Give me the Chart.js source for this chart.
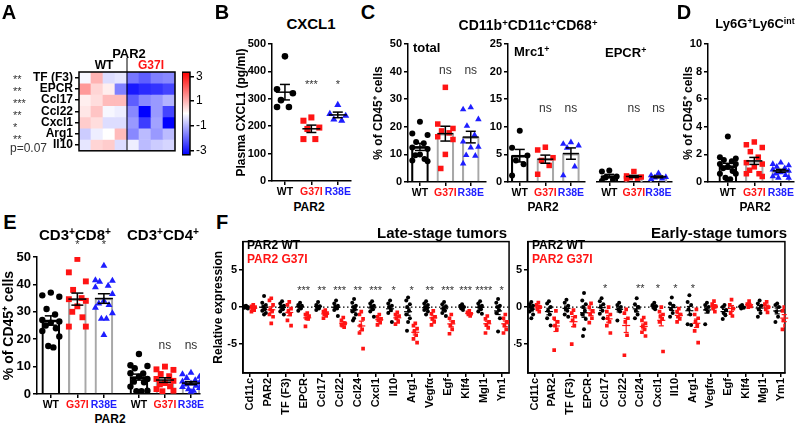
<!DOCTYPE html>
<html>
<head>
<meta charset="utf-8">
<script src="https://cdn.jsdelivr.net/npm/chart.js@4.4.0/dist/chart.umd.min.js"></script>
<style>
  body { margin: 0; width: 800px; height: 429px; position: relative; overflow: hidden; background: #fff;
         font-family: "Liberation Sans", Arial, sans-serif; }
  canvas { position: absolute; }
  .t { position: absolute; font-weight: bold; white-space: nowrap; line-height: 1; color: #000; }
  .t sup { font-size: 0.68em; position: relative; top: -0.45em; vertical-align: baseline; }
</style>
</head>
<body>
<script>
// ---------- data ----------
// A: heatmap (z-scores), rows = genes, 4 WT + 4 G37I mice
const heatGenes = ['TF (F3)', 'EPCR', 'Ccl17', 'Ccl22', 'Cxcl1', 'Arg1', 'Il10'];
const heatSig = ['**', '**', '***', '**', '*', '**', 'p=0.07'];
const heatWT = [
  [-0.1, 0.9, -0.4, -0.3],
  [1.2, 0.5, 0.2, -1.5],
  [0.2, 0.4, 0.8, 0.8],
  [0.3, 0.7, -0.1, -0.2],
  [0.6, 0.4, -0.4, -0.4],
  [-0.6, -0.2, 0.0, 0.8],
  [-0.3, 0.5, 0.6, -0.4]
];
const heatG37I = [
  [-1.6, -1.9, -1.5, -1.4],
  [-2.7, -2.5, -2.4, -2.2],
  [-1.9, -1.4, -1.2, -0.9],
  [-1.4, -3.0, -1.2, -2.2],
  [-1.2, -2.3, -1.1, -3.0],
  [-1.4, -0.8, -1.2, -0.8],
  [-0.2, -0.8, -0.6, -0.5]
];
const heatTicks = [3, 1, -1, -3];

const groupNames = ['WT', 'G37I', 'R38E'];

// B: plasma CXCL1 (pg/ml)
const cxcl1WT = [455, 335, 320, 295, 270, 270];
const cxcl1G37I = [232, 220, 195, 190, 153, 153];
const cxcl1R38E = [278, 245, 238, 225, 220];
const cxcl1Sig = ['', '***', '*'];

// C: CD11b+CD11c+CD68+ (% of CD45+)
const totalWT = [21.8, 17.6, 17, 14.5, 14, 12.5, 12, 10, 9.7, 8.3, 7.8, 7.5];
const totalG37I = [34.3, 21, 19.4, 18.5, 17.8, 16.4, 15.4, 10, 4.9];
const totalR38E = [27, 26.3, 22.7, 20.3, 17, 14.6, 12.7, 12.5, 9.7, 9.5, 6.7];
const mrc1WT = [9.3, 6.2, 4.8, 3.9, 3.2, 1.2];
const mrc1G37I = [6.3, 5.8, 4.4, 3.9, 3.0, 1.4];
const mrc1R38E = [7.2, 6.9, 6.6, 6.2, 2.8, 1.2];
const epcrWT = [2.1, 1.9, 1.0, 0.8, 0.4, 0.2];
const epcrG37I = [1.9, 1.1, 0.9, 0.8, 0.7, 0.6];
const epcrR38E = [1.6, 1.2, 0.9, 0.8, 0.6, 0.5];

// D: Ly6G+Ly6Cint (% of CD45+)
const ly6WT = [3.3, 1.8, 1.7, 1.6, 1.5, 1.3, 1.3, 1.1, 1.0, 0.8, 0.6, 0.6, 0.3, 0.2, 0.1];
const ly6G37I = [2.9, 2.7, 2.5, 2.2, 1.8, 1.4, 1.3, 1.1, 0.85, 0.6, 0.6, 0.4];
const ly6R38E = [1.4, 1.3, 1.2, 1.1, 1.0, 0.9, 0.8, 0.7, 0.6, 0.5, 0.4, 0.3, 0.3];

// E: T cells (% of CD45+)
const cd8WT = [37, 36, 35.5, 31, 29, 27, 26.5, 26, 25, 24, 23, 21, 17.5, 17];
const cd8G37I = [49.3, 44.4, 41.1, 38, 35, 34.6, 34, 32, 30, 28, 24.6, 24.6];
const cd8R38E = [46.8, 41.5, 41.3, 41, 39.5, 39, 36.5, 34, 33, 32.5, 31.5, 29.5, 27.5, 27.5, 21.5];
const cd4WT = [14.6, 10.5, 10.2, 9.4, 7.5, 7.6, 5.5, 6.3, 4.5, 4.3, 2.7, 1.2, 1.0, 1.0];
const cd4G37I = [10, 9, 8.8, 7.3, 6.5, 5.5, 4.8, 4, 3.5, 2.8, 1.8, 1.2, 1.0];
const cd4R38E = [7.8, 7.2, 6.3, 5.8, 5.0, 4.6, 4.2, 3.8, 3.5, 3.0, 2.6, 2.2, 1.7, 1.2, 0.8];

// F: relative expression in tumor macrophages
const fGenes = ['Cd11c', 'PAR2', 'TF (F3)', 'EPCR', 'Ccl17', 'Ccl22', 'Ccl24', 'Cxcl1', 'Il10', 'Arg1', 'Vegfα', 'Egf', 'Klf4', 'Mgl1', 'Ym1'];
const fLateSig = ['', '', '', '***', '**', '***', '**', '***', '*', '*', '**', '***', '***', '****', '*'];
const fEarlySig = ['', '', '', '', '*', '', '**', '*', '*', '*', '', '', '', '', ''];
const fLateWT = [
  [0.2, 0.1, 0, 0, -0.1, -0.1, -0.2],
  [1.5, 0.6, 0.3, 0, -0.3, -0.5, -0.8, -1.0],
  [0.8, 0.5, 0.2, 0, -0.3, -0.6, -1.0],
  [0.6, 0.3, 0.2, 0, -0.2, -0.5],
  [0.7, 0.3, 0.1, 0, -0.2, -0.4],
  [0.9, 0.5, 0.2, 0, -0.2, -0.4, -1.2],
  [1.1, 0.6, 0.2, 0, -0.3, -0.6, -1.0, -1.5, -1.8],
  [0.8, 0.5, 0.2, 0, -0.3, -0.6, -1.3],
  [0.9, 0.5, 0.2, 0, -0.4, -0.8, -2.0],
  [1.3, 0.9, 0.4, 0, -0.5, -1.0, -1.5, -2.0, -3.2],
  [0.8, 0.5, 0.3, 0, -0.2, -0.4, -0.6, -1.0],
  [0.7, 0.4, 0.1, -0.2, -0.5, -0.8, -1.2],
  [0.4, 0.2, 0, -0.2, -0.4],
  [0.8, 0.5, 0.2, 0, -0.3, -0.6, -0.9],
  [1.1, 0.6, 0.2, 0, -0.4, -0.8, -1.5, -3.3]
];
const fLateG37I = [
  [0.3, 0.1, 0, -0.2, -0.4, -0.6],
  [1.2, 0.9, 0.3, -0.3, -0.5, -1.0, -1.3, -2.2],
  [0.7, 0.3, -0.2, -0.6, -1.0, -1.8, -2.5],
  [-0.8, -1.0, -1.2, -1.5, -1.6, -2.6],
  [-0.4, -0.6, -0.8, -1.0, -1.2, -1.5],
  [-1.4, -1.8, -2.2, -2.5, -2.7, -2.4],
  [-0.6, -1.0, -1.6, -2.5, -3.0, -3.5, -5.6],
  [-1.0, -1.3, -1.6, -1.8, -2.1, -2.4],
  [-0.7, -1.0, -1.2, -1.5, -2.0, -2.3],
  [-2.2, -2.5, -2.9, -3.3, -3.8, -4.3, -4.8],
  [-0.5, -0.9, -1.3, -1.6, -2.0, -2.4],
  [-1.0, -1.5, -2.0, -2.5, -3.0, -3.6],
  [-0.5, -0.7, -0.9, -1.0, -1.2],
  [-1.2, -1.6, -2.0, -2.4, -2.8, -3.5],
  [-1.0, -1.5, -2.0, -2.5, -3.0, -3.5]
];
const fEarlyWT = [
  [0.7, 0.4, 0.2, 0, -0.3, -0.6, -1.0, -1.5],
  [0.8, 0.5, 0, -0.5, -1.0, -1.5, -2.5],
  [1.0, 0.6, 0.2, -0.2, -0.5, -1.0, -1.3],
  [1.9, 0.9, 0.4, 0, -0.5, -1.0, -1.6, -3.0, -3.9],
  [1.2, 0.8, 0.4, 0, -0.5, -0.9, -1.5],
  [0.6, 0.3, 0, -0.3, -0.6, -1.8],
  [1.2, 0.4, 0, -0.5, -1.0, -1.5],
  [0.6, 0.3, 0.1, -0.1, -0.3],
  [1.3, 0.5, 0.2, -0.3, -0.8, -1.3],
  [1.6, 0.7, 0.3, -0.3, -1.0, -2.3, -2.4],
  [0.6, 0.3, 0, -0.3, -0.6, -2.3],
  [0.3, 0, -0.4, -0.8, -1.1, -1.6],
  [0.3, 0.1, -0.1, -0.2],
  [0.9, 0.5, 0.2, -0.3, -0.8, -1.3],
  [0.5, 0.3, 0, -0.6, -1.3, -2.0]
];
const fEarlyG37I = [
  [0.6, 0.3, 0, -0.3, -0.6],
  [-0.5, -1.5, -2.0, -2.5, -3.0, -5.8],
  [-0.4, -0.8, -1.3, -1.8, -2.5, -5.0],
  [0.5, 0, -0.5, -1.0, -1.5, -2.1],
  [0, -0.6, -1.0, -1.5, -2.0, -2.5, -3.5],
  [-0.3, -0.8, -1.5, -2.0, -3.8, -6.5],
  [-1.4, -1.8, -2.2, -2.6, -3.0, -3.4, -3.9],
  [0, -0.6, -1.0, -1.3, -1.6, -2.0, -6.0],
  [-0.2, -0.6, -1.0, -1.3, -1.6, -2.0],
  [-0.3, -1.0, -1.5, -2.0, -2.5, -3.2, -4.8],
  [0.8, 0.4, 0.1, -0.2, -0.6],
  [1.0, 0.3, -0.2, -0.8, -1.2],
  [0.8, 0.4, 0.1, 0],
  [0.7, 0.4, 0, -0.3, -0.7],
  [0, -0.5, -1.1, -1.8, -2.5, -3.0]
];

// ---------- styling ----------
const RED = '#ff1414', BLUE = '#1e1eff', GRAY = '#a8a8a8';
const COLOR = { WT: '#000', G37I: RED, R38E: BLUE };
const SHAPE = { WT: 'circle', G37I: 'rect', R38E: 'triangle' };
const SIZE = { WT: 1, G37I: 1.3, R38E: 1.25 };
const JIT = [0, -1, 1, -0.5, 0.5, -1, 1, 0, -0.6, 0.6, -1, 1, -0.3, 0.3, 0];

Chart.defaults.font.family = '"Liberation Sans", Arial, sans-serif';
Chart.defaults.font.size = 11;
Chart.defaults.font.weight = 'bold';
Chart.defaults.color = '#000';

const mean = a => a.reduce((s, v) => s + v, 0) / a.length;
const sem = a => {
  const m = mean(a);
  return Math.sqrt(a.reduce((s, v) => s + (v - m) * (v - m), 0) / (a.length - 1) / a.length);
};

function heatColor(v) {
  const t = Math.max(-1, Math.min(1, v / 3));
  if (t >= 0) { const k = Math.round(255 * (1 - t)); return `rgb(255,${k},${k})`; }
  const k = Math.round(255 * (1 + t));
  return `rgb(${k},${k},255)`;
}

function mkCanvas(left, top, w, h) {
  const c = document.createElement('canvas');
  c.width = w; c.height = h;
  c.style.left = left + 'px'; c.style.top = top + 'px';
  document.body.appendChild(c);
  return c;
}

function txt(html, x, y, size, opts = {}) {
  const d = document.createElement('div');
  d.className = 't';
  d.innerHTML = html;
  d.style.fontSize = size + 'px';
  if (opts.color) d.style.color = opts.color;
  if (opts.normal) d.style.fontWeight = 'normal';
  const ax = opts.align === 'left' ? '0' : (opts.align === 'right' ? '-100%' : '-50%');
  d.style.left = x + 'px'; d.style.top = y + 'px';
  d.style.transform = `translate(${ax},-50%)`;
  document.body.appendChild(d);
}

function seg(ctx, x1, y1, x2, y2) {
  ctx.beginPath(); ctx.moveTo(x1, y1); ctx.lineTo(x2, y2); ctx.stroke();
}

const axisGrid = { display: true, offset: false, drawOnChartArea: false, drawTicks: true, tickLength: 4, color: '#000', lineWidth: 1.5 };

// overlay: mean +/- SEM, significance notes, optional frame and zero line
function overlay(p) {
  return {
    id: 'overlay',
    beforeDatasetsDraw(chart) {
      if (!p.box) return;
      const { ctx, chartArea: a, scales: { y } } = chart;
      ctx.save();
      ctx.strokeStyle = '#000'; ctx.lineWidth = 1.5;
      ctx.strokeRect(a.left, a.top, a.right - a.left, a.bottom - a.top);
      ctx.setLineDash([1.5, 2.5]); ctx.lineWidth = 1.2;
      const y0 = y.getPixelForValue(0);
      seg(ctx, a.left, y0, a.right, y0);
      ctx.restore();
    },
    afterDatasetsDraw(chart) {
      const { ctx, scales: { x, y } } = chart;
      ctx.save();
      p.groups.forEach(g => {
        const m = mean(g.vals), s = sem(g.vals), cx = x.getPixelForValue(g.x);
        ctx.strokeStyle = p.statColor ? COLOR[g.kind] : '#000';
        ctx.lineWidth = p.statLW || 1.5;
        const ym = y.getPixelForValue(m), yt = y.getPixelForValue(m + s), yb = y.getPixelForValue(m - s);
        seg(ctx, cx - p.mw, ym, cx + p.mw, ym);
        seg(ctx, cx, yt, cx, yb);
        seg(ctx, cx - p.cw, yt, cx + p.cw, yt);
        seg(ctx, cx - p.cw, yb, cx + p.cw, yb);
      });
      ctx.fillStyle = '#333';
      ctx.textAlign = 'center'; ctx.textBaseline = 'middle';
      (p.notes || []).forEach(n => {
        ctx.font = (n.t === 'ns' ? '12px' : '11px') + ' "Liberation Sans", Arial, sans-serif';
        ctx.fillText(n.t, x.getPixelForValue(n.x), y.getPixelForValue(n.y));
      });
      ctx.restore();
    }
  };
}

function panel(p) {
  const [L, T, R, B] = p.plot;
  const yW = p.yW || 0, padR = p.padR || 0;
  const cv = mkCanvas(L - yW, T - p.padT, R - L + yW + padR, B - T + p.padT + p.xH);
  const ds = [];
  if (p.bars) {
    ds.push({
      type: 'bar', order: 2,
      data: p.groups.map(g => ({ x: g.x, y: mean(g.vals) })),
      backgroundColor: 'rgba(255,255,255,0)',
      borderColor: p.groups.map(g => g.kind === 'WT' ? '#000' : GRAY),
      borderWidth: 1.5, barThickness: p.barW, borderSkipped: 'start'
    });
  }
  p.groups.forEach(g => ds.push({
    type: 'scatter', order: 1,
    data: g.vals.map((v, i) => ({ x: g.x + JIT[i % JIT.length] * p.spread, y: v })),
    pointStyle: SHAPE[g.kind], pointRadius: p.r * SIZE[g.kind], pointBorderWidth: 0,
    backgroundColor: COLOR[g.kind], borderColor: COLOR[g.kind]
  }));
  new Chart(cv, {
    type: 'scatter',
    data: { datasets: ds },
    options: {
      responsive: false, animation: false, devicePixelRatio: 1,
      layout: { padding: { top: p.padT, right: padR, left: 0, bottom: 0 } },
      plugins: { legend: { display: false }, tooltip: { enabled: false } },
      scales: {
        x: {
          type: 'linear', offset: false, min: p.xMin, max: p.xMax,
          afterBuildTicks: s => { s.ticks = p.xTicks.map(v => ({ value: v })); },
          afterFit: s => { s.height = p.xH; },
          ticks: {
            autoSkip: false, maxRotation: p.rot || 0, minRotation: p.rot || 0, padding: 1,
            font: { size: p.xFont || 10.5, weight: 'bold' },
            color: c => p.xColors[c.index] || '#000',
            callback: (v, i) => p.xLabels[i]
          },
          grid: axisGrid, border: { color: '#000', width: 1.5 }
        },
        y: {
          type: 'linear', display: yW > 0, min: p.yMin, max: p.yMax,
          afterBuildTicks: s => { s.ticks = p.yTicks.map(v => ({ value: v })); },
          afterFit: s => { s.width = yW; },
          ticks: { autoSkip: false, padding: 2, font: { size: p.yFont || 11, weight: 'bold' }, callback: v => String(v) },
          grid: axisGrid, border: { color: '#000', width: 1.5 },
          title: p.yTitle ? { display: true, text: p.yTitle, padding: 0, font: { size: p.yTitleSize || 12, weight: 'bold' } } : { display: false }
        }
      }
    },
    plugins: [overlay(p)]
  });
}

const colors3 = groupNames.map(n => COLOR[n]);
function groups3(xs, a, b, c) {
  return [{ kind: 'WT', x: xs[0], vals: a }, { kind: 'G37I', x: xs[1], vals: b }, { kind: 'R38E', x: xs[2], vals: c }];
}

// ---------- A: heatmap ----------
(function () {
  const L = 79, T = 72, R = 175, B = 156, yW = 54, padT = 16, padB = 4;
  const cv = mkCanvas(L - yW, T - padT, R - L + yW + 2, B - T + padT + padB);
  const nW = heatWT[0].length, nCols = nW + heatG37I[0].length;
  new Chart(cv, {
    type: 'bar',
    data: {
      datasets: heatGenes.map((g, r) => {
        const row = heatWT[r].concat(heatG37I[r]);
        return {
          data: row.map((v, c) => ({ x: c + 0.5, y: [r, r + 1] })),
          backgroundColor: row.map(heatColor),
          barPercentage: 1, categoryPercentage: 1, borderWidth: 0
        };
      })
    },
    options: {
      responsive: false, animation: false, devicePixelRatio: 1,
      layout: { padding: { top: padT, right: 2, left: 0, bottom: padB } },
      plugins: { legend: { display: false }, tooltip: { enabled: false } },
      scales: {
        x: { type: 'linear', stacked: true, offset: false, display: false, min: 0, max: nCols,
             afterBuildTicks: s => { s.ticks = Array.from({ length: nCols + 1 }, (_, i) => ({ value: i })); } },
        y: {
          type: 'linear', stacked: false, reverse: true, min: 0, max: heatGenes.length,
          afterBuildTicks: s => { s.ticks = heatGenes.map((g, i) => ({ value: i + 0.5 })); },
          afterFit: s => { s.width = yW; },
          ticks: { autoSkip: false, padding: 2, font: { size: 12, weight: 'bold' }, callback: (v, i) => heatGenes[i] },
          grid: axisGrid, border: { display: false }
        }
      }
    },
    plugins: [{
      id: 'frame',
      afterDatasetsDraw(chart) {
        const { ctx, chartArea: a, scales: { x } } = chart;
        ctx.save();
        ctx.strokeStyle = '#000'; ctx.lineWidth = 1.5;
        ctx.strokeRect(a.left, a.top, a.right - a.left, a.bottom - a.top);
        ctx.lineWidth = 1;
        const xd = x.getPixelForValue(nW);
        seg(ctx, xd, a.top - 14, xd, a.bottom);
        ctx.restore();
      }
    }]
  });

  // colour bar
  const cL = 182, cR = 190, cT = 71, cB = 156, cW = 18;
  const cb = mkCanvas(cL, cT - 8, cR - cL + cW, cB - cT + 16);
  new Chart(cb, {
    type: 'bar',
    data: { datasets: [{
      data: [{ x: 0, y: [-3.35, 3.35] }], barThickness: cR - cL, borderWidth: 0,
      backgroundColor: c => {
        const a = c.chart.chartArea;
        if (!a) return '#fff';
        const gr = c.chart.ctx.createLinearGradient(0, a.top, 0, a.bottom);
        [3.35, 0, -3.35].forEach((v, i) => gr.addColorStop(i / 2, heatColor(v)));
        return gr;
      }
    }] },
    options: {
      responsive: false, animation: false, devicePixelRatio: 1,
      layout: { padding: { top: 8, bottom: 8, left: 0, right: 0 } },
      plugins: { legend: { display: false }, tooltip: { enabled: false } },
      scales: {
        x: { type: 'linear', offset: false, display: false, min: -0.5, max: 0.5 },
        y: {
          type: 'linear', position: 'right', min: -3.35, max: 3.35,
          afterBuildTicks: s => { s.ticks = heatTicks.map(v => ({ value: v })); },
          afterFit: s => { s.width = cW; },
          ticks: { autoSkip: false, padding: 2, font: { size: 12, weight: 'normal' }, callback: v => String(v) },
          grid: axisGrid, border: { display: false }
        }
      }
    },
    plugins: [{
      id: 'cbframe',
      afterDatasetsDraw(chart) {
        const { ctx, chartArea: a } = chart;
        ctx.save(); ctx.strokeStyle = '#000'; ctx.lineWidth = 1.5;
        ctx.strokeRect(a.left, a.top, a.right - a.left, a.bottom - a.top);
        ctx.restore();
      }
    }]
  });

  txt('PAR2', 129, 53, 13);
  txt('WT', 104, 65, 12);
  txt('G37I', 151, 65, 12, { color: RED });
  heatSig.forEach((s, r) => {
    const yc = T + (r + 0.5) * (B - T) / heatGenes.length;
    if (s.startsWith('p')) txt(s, 10, yc - 2, 12, { normal: true, align: 'left', color: '#333' });
    else txt(s, 13, yc + 1, 11, { normal: true, align: 'left', color: '#333' });
  });
})();

// ---------- B ----------
panel({
  plot: [272, 44, 351, 181], yW: 38, padT: 10, padR: 16, xH: 18,
  xMin: -0.49, xMax: 2.5, xTicks: [0, 1, 2], xLabels: groupNames, xColors: colors3,
  yMin: 0, yMax: 500, yTicks: [0, 100, 200, 300, 400, 500], yTitle: 'Plasma CXCL1 (pg/ml)',
  groups: groups3([0, 1, 2], cxcl1WT, cxcl1G37I, cxcl1R38E),
  bars: false, spread: 0.3, r: 3.3, mw: 9, cw: 5,
  notes: cxcl1Sig.map((t, i) => ({ x: i, y: 352, t })).filter(n => n.t)
});

// ---------- C ----------
panel({
  plot: [408, 44, 486, 182], yW: 37, padT: 10, padR: 14, xH: 18,
  xMin: -0.47, xMax: 2.6, xTicks: [0, 1, 2], xLabels: groupNames, xColors: colors3,
  yMin: 0, yMax: 50, yTicks: [0, 10, 20, 30, 40, 50], yTitle: '% of CD45⁺ cells',
  groups: groups3([0, 1, 2], totalWT, totalG37I, totalR38E),
  bars: true, barW: 17, spread: 0.3, r: 3, mw: 8, cw: 5,
  notes: [{ x: 1, y: 40.4, t: 'ns' }, { x: 2, y: 40.4, t: 'ns' }]
});
panel({
  plot: [508, 44, 585, 182], yW: 20, padT: 10, padR: 8, xH: 18,
  xMin: -0.46, xMax: 2.55, xTicks: [0, 1, 2], xLabels: groupNames, xColors: colors3,
  yMin: 0, yMax: 25, yTicks: [0, 5, 10, 15, 20, 25],
  groups: groups3([0, 1, 2], mrc1WT, mrc1G37I, mrc1R38E),
  bars: true, barW: 17, spread: 0.3, r: 3, mw: 8, cw: 5,
  notes: [{ x: 1, y: 13.3, t: 'ns' }, { x: 2, y: 13.3, t: 'ns' }]
});
panel({
  plot: [593, 44, 672, 182], yW: 0, padT: 10, padR: 8, xH: 18,
  xMin: -0.5, xMax: 2.55, xTicks: [0, 1, 2], xLabels: groupNames, xColors: colors3,
  yMin: 0, yMax: 25, yTicks: [0, 5, 10, 15, 20, 25],
  groups: groups3([0, 1, 2], epcrWT, epcrG37I, epcrR38E),
  bars: true, barW: 17, spread: 0.3, r: 3, mw: 8, cw: 5,
  notes: [{ x: 1, y: 13.3, t: 'ns' }, { x: 2, y: 13.3, t: 'ns' }]
});

// ---------- D ----------
panel({
  plot: [708, 44, 794, 182], yW: 27, padT: 10, padR: 6, xH: 18,
  xMin: -0.75, xMax: 2.5, xTicks: [0, 1, 2], xLabels: groupNames, xColors: colors3,
  yMin: 0, yMax: 10, yTicks: [0, 2, 4, 6, 8, 10], yTitle: '% of CD45⁺ cells',
  groups: groups3([0, 1, 2], ly6WT, ly6G37I, ly6R38E),
  bars: true, barW: 18, spread: 0.3, r: 3, mw: 8, cw: 5
});

// ---------- E ----------
const eX = [0, 1, 2, 3.32, 4.3, 5.28];
panel({
  plot: [37, 257, 200, 394], yW: 36, padT: 22, padR: 10, xH: 18,
  xMin: -0.52, xMax: 5.62, xTicks: eX, xLabels: groupNames.concat(groupNames), xColors: colors3.concat(colors3),
  yMin: 0, yMax: 50, yTicks: [0, 10, 20, 30, 40, 50], yFont: 13, yTitle: '% of CD45⁺ cells', yTitleSize: 14,
  groups: groups3(eX.slice(0, 3), cd8WT, cd8G37I, cd8R38E).concat(groups3(eX.slice(3), cd4WT, cd4G37I, cd4R38E)),
  bars: true, barW: 18, spread: 0.32, r: 3.2, mw: 9, cw: 6,
  notes: [{ x: 1, y: 54.5, t: '*' }, { x: 2, y: 54.5, t: '*' }, { x: 4.3, y: 17.7, t: 'ns' }, { x: 5.28, y: 17.7, t: 'ns' }]
});

// ---------- F ----------
function fGroups(wt, mut) {
  const out = [];
  fGenes.forEach((g, i) => {
    out.push({ kind: 'WT', x: i - 0.2, vals: wt[i] });
    out.push({ kind: 'G37I', x: i + 0.2, vals: mut[i] });
  });
  return out;
}
const fTicks = fGenes.map((g, i) => i);
const fBase = {
  padT: 4, xH: 56, yMin: -8.9, yMax: 8.85, yTicks: [-5, 0, 5], rot: 90, xFont: 11,
  xTicks: fTicks, xLabels: fGenes, xColors: [],
  bars: false, spread: 0.1, r: 2, mw: 4, cw: 2.5, statColor: true, statLW: 1.2, box: true
};
panel(Object.assign({}, fBase, {
  plot: [243, 237, 512, 373], yW: 32, padR: 4, xMin: -0.37, xMax: 14.41,
  yTitle: 'Relative expression',
  groups: fGroups(fLateWT, fLateG37I),
  notes: fLateSig.map((t, i) => ({ x: i, y: 2.2, t })).filter(n => n.t)
}));
panel(Object.assign({}, fBase, {
  plot: [528, 237, 789, 373], yW: 14, padR: 6, xMin: -0.39, xMax: 14.24,
  groups: fGroups(fEarlyWT, fEarlyG37I),
  notes: fEarlySig.map((t, i) => ({ x: i, y: 2.4, t })).filter(n => n.t)
}));

// ---------- text ----------
txt('A', 9, 12, 20); txt('B', 222, 12, 20); txt('C', 368, 12, 20); txt('D', 684, 12, 20);
txt('E', 10, 222, 20); txt('F', 222, 222, 20);
txt('CXCL1', 311, 23, 15);
txt('CD11b<sup>+</sup>CD11c<sup>+</sup>CD68<sup>+</sup>', 528, 25, 14);
txt('total', 413, 47, 13, { align: 'left' });
txt('Mrc1<sup>+</sup>', 514, 51, 13, { align: 'left' });
txt('EPCR<sup>+</sup>', 605, 52, 13, { align: 'left' });
txt('Ly6G<sup>+</sup>Ly6C<sup>int</sup>', 755, 23, 13);
txt('PAR2', 309, 207, 12); txt('PAR2', 543, 207, 12); txt('PAR2', 755, 207, 12);
txt('CD3<sup>+</sup>CD8<sup>+</sup>', 75, 235, 15);
txt('CD3<sup>+</sup>CD4<sup>+</sup>', 163, 235, 15);
txt('PAR2', 110, 419, 12);
txt('Late-stage tumors', 507, 232, 15, { align: 'right' });
txt('Early-stage tumors', 787, 232, 15, { align: 'right' });
txt('PAR2 WT', 247, 245, 12, { align: 'left' });
txt('PAR2 G37I', 247, 259, 12, { align: 'left', color: RED });
txt('PAR2 WT', 532, 245, 12, { align: 'left' });
txt('PAR2 G37I', 532, 259, 12, { align: 'left', color: RED });
</script>
</body>
</html>
